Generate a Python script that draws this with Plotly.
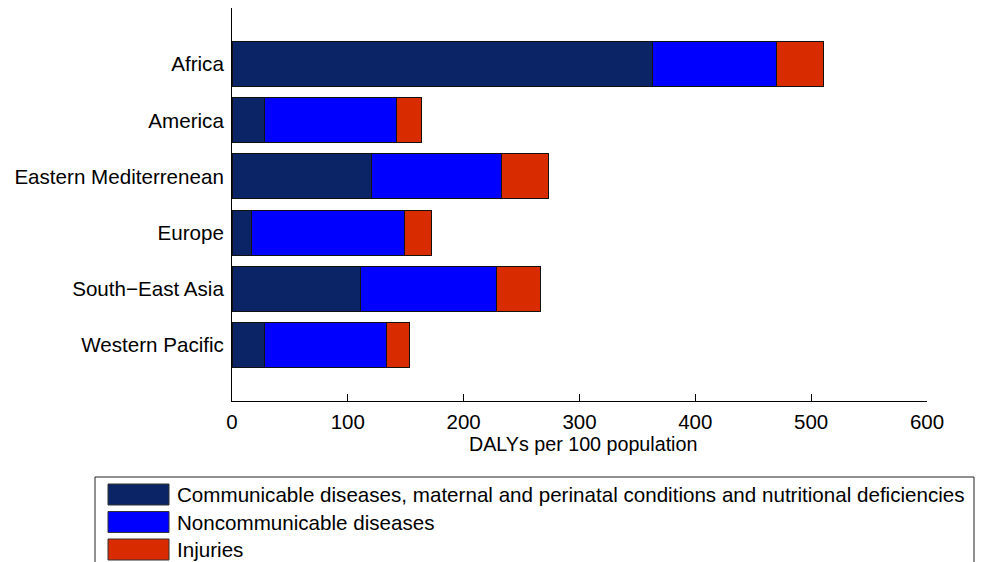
import plotly.graph_objects as go

regions = ["Africa", "America", "Eastern Mediterrenean", "Europe",
           "South\u2212East Asia", "Western Pacific"]
communicable = [363, 28, 120, 17, 111, 28]
noncommunicable = [107, 114, 113, 132, 117, 105]
injuries = [41, 22, 40, 23, 38, 20]

series_names = [
    "Communicable diseases, maternal and perinatal conditions and nutritional deficiencies",
    "Noncommunicable diseases",
    "Injuries",
]
series_colors = ["#0a2465", "#0000ff", "#d82b00"]
x_ticks = [0, 100, 200, 300, 400, 500, 600]
x_title = "DALYs per 100 population"

W, H = 985, 562
L, R, T, B = 232, 58, 8, 161
PW, PH = W - L - R, H - T - B

def fx(px):
    return (px - L) / PW

def fy(py):
    return (H - B - py) / PH

FONT = "Liberation Sans, Arial, Helvetica, sans-serif"

fig = go.Figure()
for name, vals, col in zip(series_names, [communicable, noncommunicable, injuries], series_colors):
    fig.add_trace(go.Bar(
        y=regions, x=vals, name=name, orientation="h", width=0.8,
        marker=dict(color=col, line=dict(color="#111111", width=1)),
        showlegend=False,
    ))

shapes = []
annotations = []
# legend box (bottom clipped by the figure edge)
shapes.append(dict(type="rect", xref="paper", yref="paper",
                   x0=fx(95), x1=fx(974), y0=fy(590), y1=fy(477),
                   line=dict(color="#222222", width=1), fillcolor="rgba(0,0,0,0)"))
row_tops = [484, 511.5, 539]
for name, col, top in zip(series_names, series_colors, row_tops):
    shapes.append(dict(type="rect", xref="paper", yref="paper",
                       x0=fx(108), x1=fx(169), y0=fy(top + 21), y1=fy(top),
                       line=dict(color="#333333", width=1), fillcolor=col))
    annotations.append(dict(text=name, xref="paper", yref="paper",
                            x=fx(175), y=fy(top + 10.5), xanchor="left", yanchor="middle",
                            showarrow=False, font=dict(family=FONT, size=20.6, color="black")))

annotations.append(dict(text=x_title, xref="paper", yref="paper",
                        x=fx(583), y=fy(444), xanchor="center", yanchor="middle",
                        showarrow=False, font=dict(family=FONT, size=19.7, color="black")))

fig.update_layout(
    width=W, height=H,
    margin=dict(l=L, r=R, t=T, b=B),
    barmode="stack",
    plot_bgcolor="white", paper_bgcolor="white",
    font=dict(family=FONT, size=20, color="black"),
    shapes=shapes, annotations=annotations,
    showlegend=False,
)
fig.update_xaxes(range=[0, 600], tickvals=x_ticks, ticks="inside", ticklen=7,
                 tickcolor="black", showline=True, linecolor="black", linewidth=1,
                 showgrid=False, zeroline=False, tickfont=dict(size=20.5),
                 ticklabelstandoff=2)
fig.update_yaxes(range=[6, -1], showline=True, linecolor="black", linewidth=1,
                 showgrid=False, zeroline=False, ticks="", tickfont=dict(size=20.6),
                 ticklabelstandoff=3)

fig.write_html("out.html", config={"displayModeBar": False},
               post_script="document.body.style.margin='0';")
